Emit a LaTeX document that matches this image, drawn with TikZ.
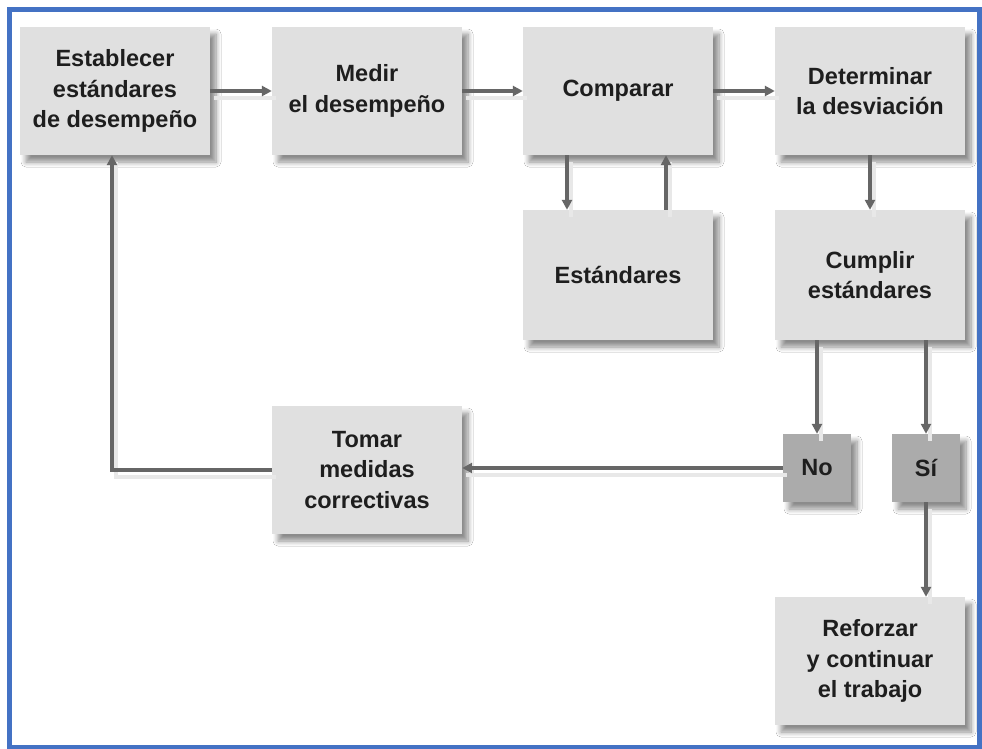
\documentclass[tikz,border=0pt]{standalone}
\usepackage{fontspec}
\setmainfont{Liberation Sans}
\usetikzlibrary{arrows.meta,shadows.blur,calc}

\definecolor{frameblue}{HTML}{4472C4}
\definecolor{boxgray}{HTML}{E0E0E0}
\definecolor{decgray}{HTML}{ABABAB}
\definecolor{linegray}{HTML}{666666}
\definecolor{inkgray}{HTML}{1E1E1E}

\tikzset{
  stepbox/.style={
    fill=boxgray, draw=none, minimum width=190pt, minimum height=128pt,
    align=center, inner sep=0pt, text=inkgray,
    font=\bfseries\fontsize{23.5}{30.5}\selectfont,
    blur shadow={shadow xshift=6pt, shadow yshift=-7pt,
                 shadow blur radius=5pt, shadow blur steps=8, shadow opacity=45}
  },
  tallbox/.style={stepbox, minimum height=130pt},
  decbox/.style={stepbox, fill=decgray, minimum width=68pt, minimum height=68pt},
  flow/.style={
    draw=linegray, line width=3.5pt,
    -{Triangle[length=10pt,width=10pt]},
    preaction={draw=black!9, line width=4.5pt, -,
               transform canvas={xshift=4pt, yshift=-7pt}}
  }
}

\begin{document}
\begin{tikzpicture}[x=1pt, y=-1pt]
  \useasboundingbox (0,0) rectangle (982,749);
  \fill[white] (0,0) rectangle (982,749);

  % outer frame
  \draw[frameblue, line width=5pt] (9,10) rectangle (979,747);

  % process boxes
  \node[stepbox] (est) at (115,91) {Establecer\\estándares\\de desempeño};
  \node[stepbox] (med) at (367,91) {Medir\\el desempeño};
  \node[stepbox] (com) at (618,91) {Comparar};
  \node[stepbox] (det) at (870,91) {Determinar\\la desviación};
  \node[tallbox] (std) at (618,275) {Estándares};
  \node[tallbox] (cum) at (870,275) {Cumplir\\estándares};
  \node[decbox]  (no)  at (817,468) {No};
  \node[decbox]  (si)  at (926,468) {Sí};
  \node[stepbox] (tom) at (367,470) {Tomar\\medidas\\correctivas};
  \node[stepbox] (ref) at (870,661) {Reforzar\\y continuar\\el trabajo};

  % top row
  \draw[flow] (est.east) -- (med.west);
  \draw[flow] (med.east) -- (com.west);
  \draw[flow] (com.east) -- (det.west);

  % comparison against standards
  \draw[flow] ($(com.south)+(-51,0)$) -- ($(std.north)+(-51,0)$);
  \draw[flow] ($(std.north)+(48,0)$) -- ($(com.south)+(48,0)$);

  % deviation check
  \draw[flow] (det.south) -- (cum.north);
  \draw[flow] (cum.south -| no.north) -- (no.north);
  \draw[flow] (cum.south -| si.north) -- (si.north);
  \draw[flow] (si.south) -- (ref.north -| si.south);

  % corrective loop
  \draw[flow] (no.west) -- (no.west -| tom.east);
  \draw[flow] (tom.west) -| ($(est.south)+(-3,0)$);
\end{tikzpicture}
\end{document}
